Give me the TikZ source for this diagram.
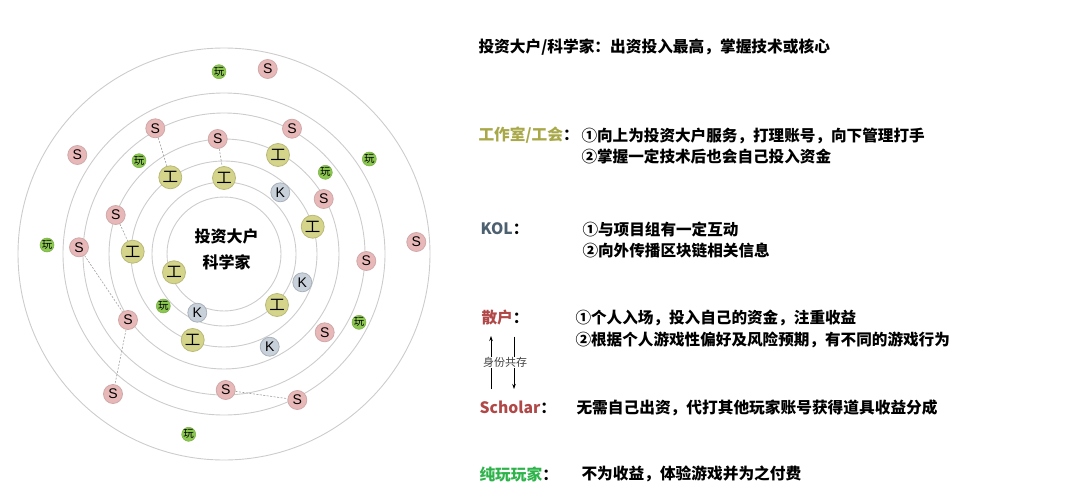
\documentclass[tikz,border=0pt]{standalone}
\usepackage{fontspec}
\setmainfont{Noto Sans CJK SC}
\newfontfamily\latinsf{Liberation Sans}
\usetikzlibrary{arrows.meta}

\definecolor{spink}{HTML}{E8B8B8}
\definecolor{sedge}{HTML}{CFA9A9}
\definecolor{golive}{HTML}{D4D48A}
\definecolor{gedge}{HTML}{B9B97A}
\definecolor{kgray}{HTML}{C8D0DA}
\definecolor{kedge}{HTML}{A9B1BB}
\definecolor{wgreen}{HTML}{8CC850}
\definecolor{wedge}{HTML}{79AE46}
\definecolor{gtext}{HTML}{A8A848}
\definecolor{ktext}{HTML}{4D6070}
\definecolor{stext}{HTML}{B04848}
\definecolor{wtext}{HTML}{2DB34A}

\newcommand\fsz[1]{\fontsize{#1}{#1}\selectfont}

\begin{document}
\begin{tikzpicture}[
  x=1pt, y=-1pt,
  >=Stealth,
  ring/.style={draw=gray!40, line width=0.9pt},
  link/.style={draw=gray!75, line width=0.6pt, dash pattern=on 2pt off 1.5pt},
  snode/.style={circle, fill=spink, draw=sedge, line width=0.8pt, minimum size=19pt,
    inner sep=0pt, font=\latinsf\fsz{14}},
  gnode/.style={circle, fill=golive, draw=gedge, line width=0.8pt, minimum size=23pt,
    inner sep=0pt, font=\fsz{15.5}},
  knode/.style={circle, fill=kgray, draw=kedge, line width=0.8pt, minimum size=19pt,
    inner sep=0pt, font=\latinsf\fsz{14}},
  wnode/.style={circle, fill=wgreen, draw=wedge, line width=0.5pt, minimum size=14pt,
    inner sep=0pt, font=\fsz{10.5}},
  role/.style={anchor=west, font=\bfseries\fsz{15.7}},
  desc/.style={anchor=west, font=\bfseries\fontsize{15.6}{21.5}\selectfont, align=left},
  share/.style={fill=white, inner sep=0.5pt, text=black!75, font=\fsz{11}},
  updown/.style={->, line width=0.6pt, >={Stealth[length=5pt, width=3.5pt]}}
]
\path[use as bounding box] (0,0) rectangle (1080,498);

% rings
\coordinate (ctr) at (224,254);
\foreach \r in {206,161,141,115,93,72,57}
  \draw[ring] (ctr) circle (\r pt);

% scholars
\node[snode] (s1)  at (267.7,69)    {S};
\node[snode] (s2)  at (155.3,128.3) {S};
\node[snode] (s3)  at (292,128.7)   {S};
\node[snode] (s4)  at (77.3,155)    {S};
\node[snode] (s5)  at (217.7,139)   {S};
\node[snode] (s6)  at (323.7,199)   {S};
\node[snode] (s7)  at (115.7,215)   {S};
\node[snode] (s8)  at (79,247.3)    {S};
\node[snode] (s9)  at (416.3,242)   {S};
\node[snode] (s10) at (366.3,261)   {S};
\node[snode] (s11) at (128,320)     {S};
\node[snode] (s12) at (324.7,332.3) {S};
\node[snode] (s13) at (225.7,390)   {S};
\node[snode] (s14) at (297.3,400)   {S};
\node[snode] (s15) at (113,394)     {S};

% guilds
\node[gnode] (g1) at (278,155)     {工};
\node[gnode] (g2) at (170.3,177.3) {工};
\node[gnode] (g3) at (224,178)     {工};
\node[gnode] (g4) at (312.7,226.7) {工};
\node[gnode] (g5) at (132.7,251.7) {工};
\node[gnode] (g6) at (174,272.3)   {工};
\node[gnode] (g7) at (277,305)     {工};
\node[gnode] (g8) at (192.7,340)   {工};

% kols
\node[knode] (k1) at (280.3,192.3) {K};
\node[knode] (k2) at (302.3,282.3) {K};
\node[knode] (k3) at (197.3,312.7) {K};
\node[knode] (k4) at (269.7,346.7) {K};

% players
\node[wnode] (w1) at (219,71.7)    {玩};
\node[wnode] (w2) at (139,160.7)   {玩};
\node[wnode] (w3) at (369.3,159)   {玩};
\node[wnode] (w4) at (325.3,172.3) {玩};
\node[wnode] (w5) at (47,245)      {玩};
\node[wnode] (w6) at (163.3,306)   {玩};
\node[wnode] (w7) at (359,322.3)   {玩};
\node[wnode] (w8) at (188.7,434.3) {玩};

\node[align=center, font=\bfseries\fontsize{16}{26}\selectfont] (core) at (226.7,249.7)
  {投资大户\\科学家};

\draw[link] (s2) -- (g2);
\draw[link] (s5) -- (g3);
\draw[link] (s7) -- (g5);
\draw[link] (s8) -- (s11) -- (s15);
\draw[link] (s13) -- (s14);

% legend
\node[role] (whale) at (475,47) {投资大户/科学家：出资投入最高，掌握技术或核心};

\node[role] (guild) at (475,135) {{\color{gtext}工作室/工会}：};
\node[desc] (guildtx) at (578,145.8)
  {①向上为投资大户服务，打理账号，向下管理打手\\②掌握一定技术后也会自己投入资金};

\node[role] (kol) at (477,229) {{\color{ktext}KOL}：};
\node[desc] (koltx) at (579,240)
  {①与项目组有一定互动\\②向外传播区块链相关信息};

\node[role] (retail) at (478,318) {{\color{stext}散户}：};
\node[desc] (retailtx) at (572,329)
  {①个人入场，投入自己的资金，注重收益\\②根据个人游戏性偏好及风险预期，有不同的游戏行为};

\coordinate (upa) at (491,389);
\coordinate (upb) at (491,336);
\coordinate (dna) at (514,336.5);
\coordinate (dnb) at (514,389);
\draw[updown] (upa) -- (upb);
\draw[updown] (dna) -- (dnb);
\node[share] (both) at (505,362.7) {身份共存};

\node[role] (scholar) at (476,407.7) {{\color{stext}Scholar}：};
\node[role] (scholartx) at (573,408) {无需自己出资，代打其他玩家账号获得道具收益分成};

\node[role] (player) at (476,474) {{\color{wtext}纯玩玩家}：};
\node[role] (playertx) at (578,474) {不为收益，体验游戏并为之付费};
\end{tikzpicture}
\end{document}
